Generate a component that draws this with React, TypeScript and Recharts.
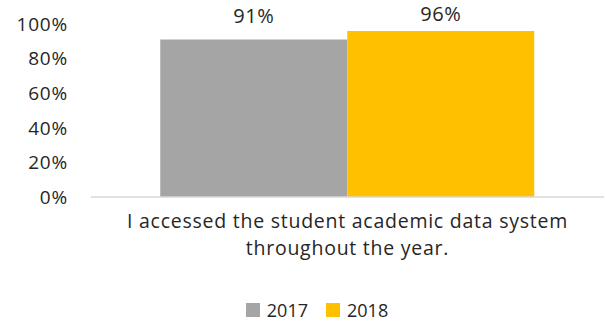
import React from "react";
import { BarChart, Bar, XAxis, YAxis, LabelList, Legend } from "recharts";

const categories = ["I accessed the student academic data system throughout the year."];
const categoryLines = [["I accessed the student academic data system", "throughout the year."]];
const values2017 = [91];
const values2018 = [96];
const yTicks = [0, 20, 40, 60, 80, 100];
const seriesNames = ["2017", "2018"];
const seriesColors = ["#a5a5a5", "#ffc000"];

const data = categories.map((c, i) => ({
  name: c,
  s2017: values2017[i],
  s2018: values2018[i],
}));

const FONT = "'Open Sans', sans-serif";
const TEXT = "#262626";

const CatTick = (props: any) => {
  const { x, y, index } = props;
  const lines = categoryLines[index] || [];
  return (
    <g>
      {lines.map((l: string, i: number) => (
        <text
          key={i}
          x={x}
          y={y + 23 + i * 27}
          textAnchor="middle"
          fontFamily={FONT}
          fontSize={19.5}
          letterSpacing={0.75}
          fill={TEXT}
        >
          {l}
        </text>
      ))}
    </g>
  );
};

const LegendContent = () => (
  <div
    style={{
      display: "flex",
      justifyContent: "center",
      fontFamily: FONT,
      fontSize: 18,
      color: TEXT,
      paddingLeft: 30,
      paddingTop: 1,
      lineHeight: "20px",
      height: 24,
      boxSizing: "border-box",
    }}
  >
    {seriesNames.map((n, i) => (
      <div key={n} style={{ display: "flex", alignItems: "center", marginRight: i === 0 ? 18 : 0 }}>
        <div style={{ width: 14, height: 14, background: seriesColors[i], marginRight: 7 }} />
        <span>{n}</span>
      </div>
    ))}
  </div>
);

export default function App() {
  return (
    <div style={{ position: "absolute", left: 0, top: 0, width: 605, height: 321, background: "#fff" }}>
      <BarChart
        width={605}
        height={321}
        data={data}
        margin={{ top: 24, right: 1, bottom: 0, left: 0 }}
        barCategoryGap="13.5%"
        barGap={0}
      >
        <XAxis
          dataKey="name"
          height={100}
          tick={<CatTick />}
          tickLine={false}
          axisLine={{ stroke: "#d9d9d9", strokeWidth: 1.5 }}
        />
        <YAxis
          width={91}
          domain={[0, 100]}
          ticks={yTicks}
          tickFormatter={(v: number) => `${v}%`}
          axisLine={false}
          tickLine={false}
          tickMargin={17}
          tick={{ fontFamily: FONT, fontSize: 19, fill: TEXT, letterSpacing: 0.8 }}
          interval={0}
        />
        <Legend verticalAlign="bottom" content={<LegendContent />} height={24} />
        <Bar dataKey="s2017" name={seriesNames[0]} fill={seriesColors[0]} isAnimationActive={false}>
          <LabelList
            dataKey="s2017"
            position="top"
            offset={17}
            formatter={(v: number) => `${v}%`}
            style={{ fontFamily: FONT, fontSize: 20, fill: TEXT, letterSpacing: 0.5 }}
          />
        </Bar>
        <Bar dataKey="s2018" name={seriesNames[1]} fill={seriesColors[1]} isAnimationActive={false}>
          <LabelList
            dataKey="s2018"
            position="top"
            offset={10}
            formatter={(v: number) => `${v}%`}
            style={{ fontFamily: FONT, fontSize: 20, fill: TEXT, letterSpacing: 0.5 }}
          />
        </Bar>
      </BarChart>
    </div>
  );
}
